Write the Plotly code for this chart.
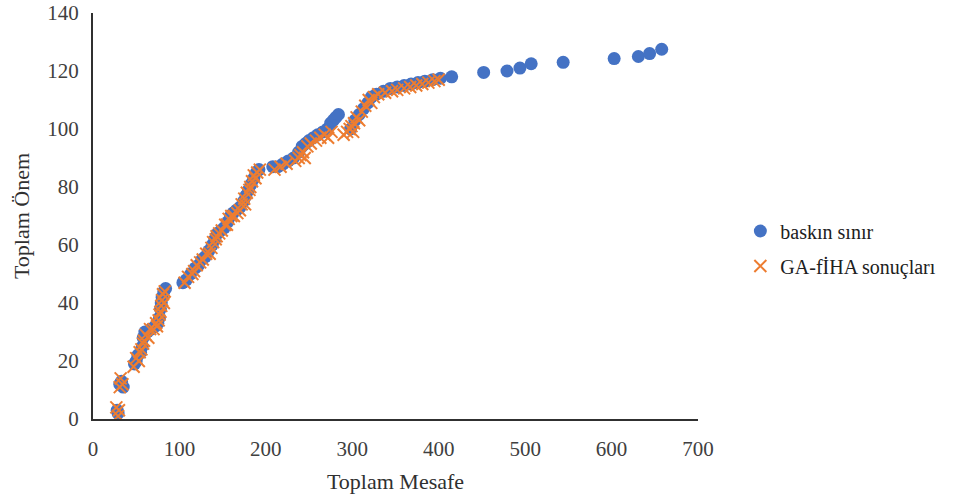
import plotly.graph_objects as go

# baskın sınır (dominant frontier)
dom_x = [28, 29, 31, 33, 35,
         48, 50, 52, 55, 57, 58, 60, 63, 67, 72, 75, 77, 78, 79, 80, 82, 84,
         104, 108, 113, 118, 122, 126, 130, 134, 138, 141, 144, 148, 152, 156, 159, 162, 166, 170, 174, 177, 180, 183, 186, 189, 192,
         208, 214, 220, 226, 232, 238, 242, 246, 250, 255, 260, 266, 271, 275, 278, 281, 284,
         298, 303, 308, 313, 318, 322, 328, 336, 344, 352, 360, 368, 376, 384, 393, 402, 415,
         452, 479, 494, 507, 544, 603, 631, 644, 658]
dom_y = [3, 2, 12, 13, 11,
         19, 20, 22, 23, 25, 28, 30, 30, 31, 32, 33, 35, 38, 40, 42, 44, 45,
         47, 48, 50, 52, 53, 55, 56, 58, 60, 62, 64, 65, 66, 68, 70, 71, 72, 73, 75, 77, 79, 81, 83, 85, 86,
         87, 87, 88, 89, 90, 92, 94, 95, 96, 97, 98, 99, 100, 102, 103, 104, 105,
         100, 103, 105, 107, 109, 111, 112, 113, 114, 114.5, 115, 115.5, 116, 116.5, 117, 117.5, 118,
         119.5, 120, 121, 122.5, 123, 124.3, 125, 126, 127.5]

# GA-fİHA sonuçları
ga_x = [27, 30, 29, 31, 34, 32,
        47, 50, 53, 54, 56, 58, 59, 61, 64, 66, 70, 73, 74, 76, 77, 78, 79, 80, 81, 83, 82,
        106, 110, 115, 117, 120, 124, 127, 131, 135, 137, 139, 142, 143, 146, 149, 153, 155, 157, 160, 163, 167, 170, 172, 175, 176, 178, 181, 182, 184, 186, 188, 190, 193,
        210, 217, 224, 234, 238, 240, 243, 245, 248, 252, 258, 263, 268, 272, 276,
        290, 294, 297, 299, 301, 302, 305, 308, 311, 315, 319, 322, 325, 330, 338, 346, 352, 360, 367, 374, 381, 388, 395, 400]
ga_y = [4, 3, 1, 11, 12, 14,
        18, 21, 20, 23, 24, 26, 27, 29, 28, 31, 31, 33, 32, 34, 36, 37, 39, 41, 43, 44, 40,
        47, 49, 50, 51, 53, 54, 55, 57, 57, 59, 61, 62, 63, 64, 65, 67, 67, 69, 70, 70, 71, 72, 74, 76, 74, 78, 79, 80, 82, 84, 83, 85, 86,
        86, 87, 88, 89, 90, 91, 92, 90, 94, 95, 96, 97, 98, 97, 99,
        98, 99, 100, 101, 99, 102, 104, 103, 106, 108, 110, 109, 111, 112, 112.5, 113, 113.5, 114, 114.5, 115, 115.5, 116, 116.5, 117]

x_ticks = [0, 100, 200, 300, 400, 500, 600, 700]
y_ticks = [0, 20, 40, 60, 80, 100, 120, 140]

font_family = "Liberation Serif, Times New Roman, serif"
txt = "#404040"

fig = go.Figure()
fig.add_trace(go.Scatter(
    x=dom_x, y=dom_y, mode="markers", name="baskın sınır", legendgroup="a",
    marker=dict(symbol="circle", size=13, color="#4472C4"),
))
fig.add_trace(go.Scatter(
    x=ga_x, y=ga_y, mode="markers", name="GA-fİHA sonuçları", legendgroup="b",
    marker=dict(symbol="x-thin", size=12, color="#ED7D31",
                line=dict(color="#ED7D31", width=2)),
))

fig.update_layout(
    width=959, height=499,
    margin=dict(l=93, r=261, t=13, b=80),
    paper_bgcolor="white", plot_bgcolor="white",
    font=dict(family=font_family, size=21, color=txt),
    showlegend=True,
    legend=dict(x=1.07, y=0.42, xanchor="left", yanchor="middle",
                font=dict(family=font_family, size=20, color="#202020"),
                tracegroupgap=6, itemwidth=30),
    xaxis=dict(range=[0, 700], tickvals=x_ticks, showgrid=False, zeroline=False,
               showline=True, linecolor="#303030", linewidth=2, ticks="",
               ticklabelstandoff=10, automargin=False,
               title=dict(text="Toplam Mesafe", font=dict(family=font_family, size=22, color="#303030"), standoff=13),
               tickfont=dict(family=font_family, size=21, color=txt)),
    yaxis=dict(range=[0, 140], tickvals=y_ticks, showgrid=False, zeroline=False,
               showline=True, linecolor="#303030", linewidth=2, ticks="",
               ticklabelstandoff=8, automargin=False,
               title=dict(text="Toplam Önem", font=dict(family=font_family, size=22, color="#303030"), standoff=12),
               tickfont=dict(family=font_family, size=21, color=txt)),
)

fig.write_html("out.html")
